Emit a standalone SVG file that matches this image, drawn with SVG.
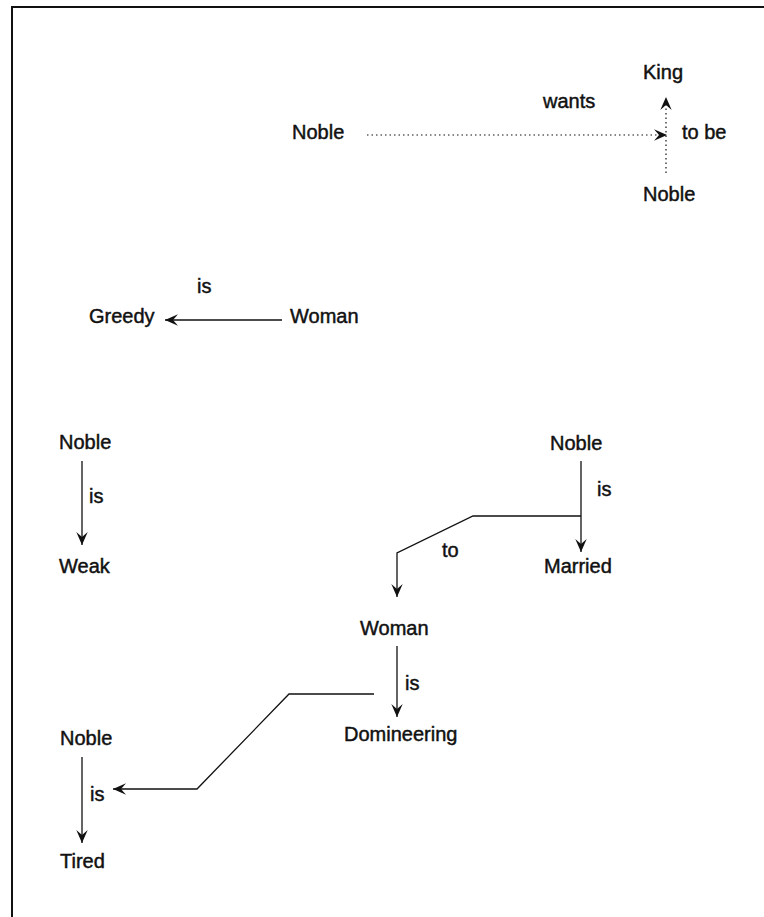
<svg xmlns="http://www.w3.org/2000/svg" width="764" height="917" viewBox="0 0 764 917">
  <style>
    text { font-family: "Liberation Sans", Arial, Helvetica, sans-serif; font-size: 20px; fill: #111; stroke: #111; stroke-width: 0.45; }
    .edge { fill: none; stroke: #111; stroke-width: 1.3; }
    .dotted { stroke-dasharray: 1.5 3; stroke-width: 1.2; }
    .frame { fill: none; stroke: #111; stroke-width: 2; }
  </style>
  <defs>
    <marker id="arrow" viewBox="0 0 13 12" refX="13" refY="6" markerWidth="13" markerHeight="12" markerUnits="userSpaceOnUse" orient="auto">
      <path d="M0,0.3 L13,6 L0,11.7 L5,6 z" fill="#111"/>
    </marker>
  </defs>

  <!-- page frame (top and left edges) -->
  <path class="frame" d="M12,917 L12,7 L764,7"/>

  <!-- concept nodes -->
  <g id="noble-wants"><text x="292" y="139">Noble</text></g>
  <g id="king"><text x="643" y="79">King</text></g>
  <g id="noble-tobe"><text x="643" y="201">Noble</text></g>

  <g id="greedy"><text x="89" y="323">Greedy</text></g>
  <g id="woman-greedy"><text x="290" y="323">Woman</text></g>

  <g id="noble-weak"><text x="59" y="449">Noble</text></g>
  <g id="weak"><text x="59" y="573">Weak</text></g>

  <g id="noble-married"><text x="550" y="450">Noble</text></g>
  <g id="married"><text x="544" y="573">Married</text></g>

  <g id="woman-domineering"><text x="360" y="635">Woman</text></g>
  <g id="domineering"><text x="344" y="741">Domineering</text></g>

  <g id="noble-tired"><text x="60" y="745">Noble</text></g>
  <g id="tired"><text x="60" y="868">Tired</text></g>

  <!-- connectors and relation labels -->
  <g id="connectors">
    <path class="edge dotted" d="M367,135 L667,135" marker-end="url(#arrow)"/>
    <path class="edge dotted" d="M666,173 L666,97" marker-end="url(#arrow)"/>
    <text x="543" y="108">wants</text>
    <text x="682" y="139">to be</text>

    <path class="edge" d="M282,320 L165,320" marker-end="url(#arrow)"/>
    <text x="197" y="293">is</text>

    <path class="edge" d="M82,461 L82,545" marker-end="url(#arrow)"/>
    <text x="89" y="503">is</text>

    <path class="edge" d="M581,461 L581,552" marker-end="url(#arrow)"/>
    <text x="597" y="496">is</text>
    <path class="edge" d="M581,516 L473,516 L397,553 L397,597" marker-end="url(#arrow)"/>
    <text x="442" y="557">to</text>

    <path class="edge" d="M397,646 L397,717" marker-end="url(#arrow)"/>
    <text x="405" y="690">is</text>
    <path class="edge" d="M374,694 L289,694 L197,789 L113,789" marker-end="url(#arrow)"/>

    <path class="edge" d="M82,757 L82,843" marker-end="url(#arrow)"/>
    <text x="90" y="801">is</text>
  </g>
</svg>
